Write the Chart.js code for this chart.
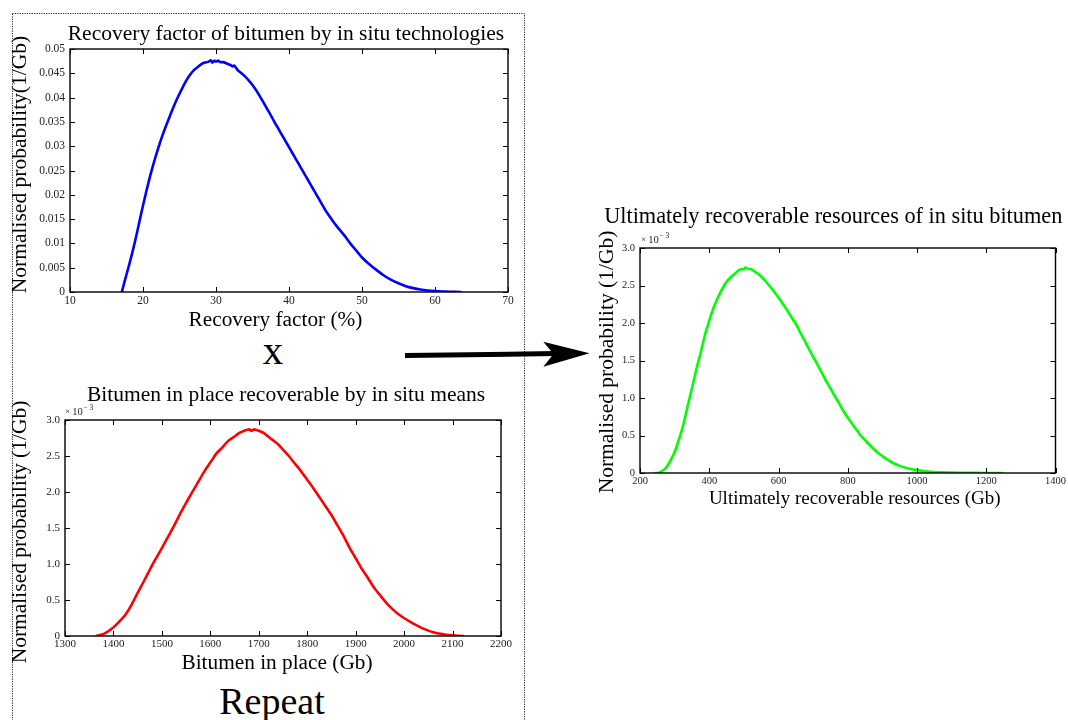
<!DOCTYPE html>
<html>
<head>
<meta charset="utf-8">
<title>In situ bitumen: recovery factor, bitumen in place and URR</title>
<script src="https://cdn.jsdelivr.net/npm/chart.js@4.4.1/dist/chart.umd.min.js"></script>
<style>
  html, body { margin: 0; padding: 0; background: #fff; width: 1068px; height: 720px; overflow: hidden; }
  #deco { position: absolute; left: 0; top: 0; }
  canvas { position: absolute; }
</style>
</head>
<body>
<svg id="deco" width="1068" height="720" xmlns="http://www.w3.org/2000/svg">
  <!-- dotted box around the two input distributions -->
  <rect x="12.5" y="13.5" width="512" height="720" fill="none" stroke="#222" stroke-width="1" stroke-dasharray="1.2,1.2"/>
  <!-- arrow pointing to the combined result -->
  <line x1="405" y1="355.6" x2="556" y2="353.6" stroke="#000" stroke-width="5"/>
  <path d="M589.5,353.3 L543.3,341.7 L553.5,354 L543.3,366.7 Z" fill="#000"/>
  <text x="273" y="364" font-family="Liberation Serif, serif" font-size="41" text-anchor="middle" fill="#000">x</text>
  <text x="272" y="714" font-family="Liberation Serif, serif" font-size="38" text-anchor="middle" fill="#000">Repeat</text>
</svg>

<canvas id="c1" width="530" height="340" style="left:0;top:0"></canvas>
<canvas id="c2" width="530" height="320" style="left:0;top:360px"></canvas>
<canvas id="c3" width="478" height="330" style="left:590px;top:190px"></canvas>

<script>
// ---- Recovery factor of bitumen by in situ technologies ----
const recoveryFactorPct = [17.1, 17.5, 18, 18.5, 19, 19.5, 20, 20.5, 21, 21.5, 22, 22.5, 23, 23.5, 24, 24.5,
  25, 25.5, 26, 26.5, 27, 27.5, 28, 28.5, 29, 29.3, 29.5, 29.8, 30, 30.3, 30.6, 31, 31.5, 32, 32.3, 32.5,
  33, 33.5, 34, 34.5, 35, 35.5, 36, 36.5, 37, 37.5, 38, 38.5, 39, 39.5, 40, 40.5, 41, 41.5, 42, 42.5,
  43, 43.5, 44, 44.5, 45, 45.5, 46, 46.5, 47, 47.5, 48, 48.5, 49, 49.5, 50, 51, 52, 53, 54, 55, 56, 57,
  58, 59, 60, 61, 62, 63.5];
const recoveryProb = [0, 0.0023, 0.0050, 0.0079, 0.0110, 0.0144, 0.0178, 0.0210, 0.0240, 0.0267, 0.0292, 0.0315,
  0.0336, 0.0355, 0.0374, 0.0392, 0.0408, 0.0423, 0.0437, 0.0448, 0.0457, 0.0463, 0.0469, 0.0472, 0.0474,
  0.0477, 0.0472, 0.0476, 0.0474, 0.0476, 0.0473, 0.0473, 0.0470, 0.0467, 0.0464, 0.0466, 0.0456, 0.0450,
  0.0443, 0.0435, 0.0426, 0.0415, 0.0403, 0.0390, 0.0377, 0.0364, 0.0350, 0.0337, 0.0324, 0.0311, 0.0298,
  0.0285, 0.0272, 0.0259, 0.0246, 0.0233, 0.0220, 0.0207, 0.0194, 0.0181, 0.0168, 0.0157, 0.0146, 0.0136,
  0.0127, 0.0118, 0.0108, 0.0098, 0.0089, 0.0080, 0.0071, 0.0057, 0.0045, 0.0034, 0.0025, 0.0018, 0.0012,
  0.0008, 0.0005, 0.0003, 0.00018, 0.0001, 0.00005, 0];
const recoveryXTicks = [10, 20, 30, 40, 50, 60, 70];
const recoveryYTicks = [0, 0.005, 0.01, 0.015, 0.02, 0.025, 0.03, 0.035, 0.04, 0.045, 0.05];

// ---- Bitumen in place recoverable by in situ means (probability in units of 1e-3 per Gb) ----
const bitumenInPlaceGb = [1365, 1380, 1390, 1400, 1412, 1425, 1437, 1450, 1462, 1475, 1487, 1500, 1512, 1525,
  1537, 1550, 1562, 1575, 1587, 1600, 1612, 1625, 1637, 1650, 1660, 1670, 1680, 1685, 1690, 1700, 1710, 1725,
  1737, 1750, 1762, 1775, 1787, 1800, 1812, 1825, 1837, 1850, 1862, 1875, 1887, 1900, 1912, 1925, 1937, 1950,
  1962, 1975, 1987, 2000, 2012, 2025, 2037, 2050, 2062, 2075, 2087, 2100, 2121];
const bitumenProbE3 = [0, 0.03, 0.07, 0.12, 0.2, 0.3, 0.43, 0.6, 0.75, 0.92, 1.07, 1.22, 1.37, 1.53, 1.69, 1.85,
  1.99, 2.14, 2.28, 2.41, 2.53, 2.62, 2.71, 2.77, 2.82, 2.85, 2.87, 2.85, 2.87, 2.85, 2.82, 2.74, 2.68, 2.59,
  2.50, 2.39, 2.29, 2.17, 2.06, 1.93, 1.81, 1.68, 1.54, 1.39, 1.23, 1.08, 0.94, 0.81, 0.68, 0.57, 0.47, 0.38,
  0.31, 0.25, 0.2, 0.15, 0.11, 0.075, 0.05, 0.03, 0.017, 0.009, 0];
const bitumenXTicks = [1300, 1400, 1500, 1600, 1700, 1800, 1900, 2000, 2100, 2200];
const probYTicksE3 = [0, 0.5, 1.0, 1.5, 2.0, 2.5, 3.0];

// ---- Ultimately recoverable resources of in situ bitumen (probability in units of 1e-3 per Gb) ----
const urrGb = [245, 255, 265, 275, 285, 300, 312, 325, 337, 350, 362, 375, 387, 400, 412, 425, 437, 450, 462,
  475, 487, 500, 505, 512, 520, 530, 540, 550, 562, 575, 587, 600, 612, 625, 637, 650, 662, 675, 687, 700,
  712, 725, 737, 750, 762, 775, 787, 800, 812, 825, 837, 850, 862, 875, 887, 900, 912, 925, 937, 950, 975,
  1000, 1025, 1050, 1075, 1100, 1150, 1200, 1245];
const urrProbE3 = [0, 0.005, 0.03, 0.07, 0.14, 0.28, 0.44, 0.64, 0.88, 1.13, 1.37, 1.6, 1.83, 2.03, 2.2, 2.34,
  2.45, 2.55, 2.61, 2.66, 2.71, 2.72, 2.74, 2.72, 2.72, 2.69, 2.66, 2.62, 2.56, 2.49, 2.42, 2.34, 2.26, 2.17,
  2.08, 1.99, 1.88, 1.77, 1.66, 1.55, 1.45, 1.34, 1.23, 1.13, 1.03, 0.93, 0.83, 0.74, 0.66, 0.58, 0.5, 0.44,
  0.38, 0.32, 0.27, 0.225, 0.185, 0.15, 0.12, 0.095, 0.06, 0.038, 0.023, 0.013, 0.008, 0.005, 0.002, 0.0005, 0];
const urrXTicks = [200, 400, 600, 800, 1000, 1200, 1400];

const SERIF = '"Liberation Serif", "Times New Roman", serif';

// Draws the boxed frame with inward ticks on all four sides, plus the titles and axis labels.
const figureText = {
  id: 'figureText',
  afterDatasetsDraw(chart, _args, o) {
    const { ctx, chartArea: a } = chart;
    const xs = chart.scales.x, ys = chart.scales.y;
    ctx.save();
    ctx.strokeStyle = '#000';
    ctx.lineWidth = 1;
    ctx.beginPath();
    const tl = 5;
    xs.ticks.forEach(t => {
      const p = Math.round(xs.getPixelForValue(t.value)) + 0.5;
      ctx.moveTo(p, a.bottom); ctx.lineTo(p, a.bottom - tl);
      ctx.moveTo(p, a.top); ctx.lineTo(p, a.top + tl);
    });
    ys.ticks.forEach(t => {
      const p = Math.round(ys.getPixelForValue(t.value)) + 0.5;
      ctx.moveTo(a.left, p); ctx.lineTo(a.left + tl, p);
      ctx.moveTo(a.right, p); ctx.lineTo(a.right - tl, p);
    });
    ctx.stroke();
    ctx.lineWidth = 1.4;
    ctx.strokeRect(a.left, a.top, a.right - a.left, a.bottom - a.top);

    const cx = (a.left + a.right) / 2, cy = (a.top + a.bottom) / 2;
    ctx.fillStyle = '#000';
    ctx.textAlign = 'center';
    ctx.textBaseline = 'middle';
    ctx.font = `${o.title.size}px ${SERIF}`;
    ctx.fillText(o.title.text, cx + o.title.dx, a.top + o.title.dy);
    ctx.font = `${o.xLabel.size}px ${SERIF}`;
    ctx.fillText(o.xLabel.text, cx + o.xLabel.dx, a.bottom + o.xLabel.dy);
    ctx.save();
    ctx.translate(a.left + o.yLabel.dx, cy + o.yLabel.dy);
    ctx.rotate(-Math.PI / 2);
    ctx.font = `${o.yLabel.size}px ${SERIF}`;
    ctx.fillText(o.yLabel.text, 0, 0);
    ctx.restore();

    if (o.exponent) {
      const bx = a.left + o.exponent.dx, by = a.top + o.exponent.dy;
      ctx.textAlign = 'left';
      ctx.textBaseline = 'alphabetic';
      ctx.fillStyle = '#222';
      ctx.font = `9px ${SERIF}`;
      ctx.fillText('×', bx, by - 1);
      const w1 = ctx.measureText('× ').width;
      ctx.font = `10.5px ${SERIF}`;
      ctx.fillText('10', bx + w1, by);
      const w2 = ctx.measureText('10').width;
      ctx.font = `7.5px ${SERIF}`;
      ctx.fillText('− 3', bx + w1 + w2 + 0.5, by - 5);
    }
    ctx.restore();
  }
};

function buildChart(id, d) {
  return new Chart(document.getElementById(id), {
    type: 'line',
    data: {
      datasets: [{
        data: d.xs.map((v, i) => ({ x: v, y: d.ys[i] })),
        borderColor: d.color,
        borderWidth: 2.6,
        pointRadius: 0,
        tension: 0.2,
        fill: false,
        borderJoinStyle: 'round',
        borderCapStyle: 'round'
      }]
    },
    options: {
      responsive: false,
      animation: false,
      events: [],
      layout: { padding: { left: 0, top: d.box.top, right: d.box.right, bottom: 0 } },
      plugins: {
        legend: { display: false },
        tooltip: { enabled: false },
        title: { display: false },
        figureText: d.text
      },
      scales: {
        x: {
          type: 'linear',
          min: d.xTicks[0],
          max: d.xTicks[d.xTicks.length - 1],
          afterBuildTicks: s => { s.ticks = d.xTicks.map(v => ({ value: v })); },
          afterFit: s => { s.height = d.box.xAxis; },
          grid: { display: false, drawTicks: false },
          border: { display: false },
          ticks: {
            autoSkip: false, maxRotation: 0, minRotation: 0, padding: 2,
            color: '#222', font: { family: SERIF, size: d.tickSize },
            callback: v => String(v)
          }
        },
        y: {
          type: 'linear',
          min: d.yTicks[0],
          max: d.yTicks[d.yTicks.length - 1],
          afterBuildTicks: s => { s.ticks = d.yTicks.map(v => ({ value: v })); },
          afterFit: s => { s.width = d.box.yAxis; },
          grid: { display: false, drawTicks: false },
          border: { display: false },
          ticks: {
            autoSkip: false, padding: 5,
            color: '#222', font: { family: SERIF, size: d.tickSize },
            callback: d.yFmt
          }
        }
      }
    },
    plugins: [figureText]
  });
}

const fmtE3 = v => (v === 0 ? '0' : v.toFixed(1));

buildChart('c1', {
  xs: recoveryFactorPct, ys: recoveryProb, color: '#0000ff',
  xTicks: recoveryXTicks, yTicks: recoveryYTicks, tickSize: 11.5,
  yFmt: v => (v === 0 ? '0' : String(v)),
  box: { top: 49, right: 22, yAxis: 70, xAxis: 48 },
  text: {
    title: { text: 'Recovery factor of bitumen by in situ technologies', size: 21.5, dx: -3, dy: -15 },
    xLabel: { text: 'Recovery factor (%)', size: 21.3, dx: -13.5, dy: 28 },
    yLabel: { text: 'Normalised probability(1/Gb)', size: 21.5, dx: -50, dy: -6 }
  }
});

buildChart('c2', {
  xs: bitumenInPlaceGb, ys: bitumenProbE3, color: '#ff0000',
  xTicks: bitumenXTicks, yTicks: probYTicksE3, tickSize: 11,
  yFmt: fmtE3,
  box: { top: 60, right: 29, yAxis: 65, xAxis: 44 },
  text: {
    title: { text: 'Bitumen in place recoverable by in situ means', size: 21.5, dx: 3, dy: -25 },
    xLabel: { text: 'Bitumen in place (Gb)', size: 21.3, dx: -6, dy: 27 },
    yLabel: { text: 'Normalised probability (1/Gb)', size: 21.5, dx: -45, dy: 4 },
    exponent: { dx: 0, dy: -5 }
  }
});

buildChart('c3', {
  xs: urrGb, ys: urrProbE3, color: '#00ff00',
  xTicks: urrXTicks, yTicks: probYTicksE3, tickSize: 10.5,
  yFmt: fmtE3,
  box: { top: 58, right: 11, yAxis: 50, xAxis: 47 },
  text: {
    title: { text: 'Ultimately recoverable resources of in situ bitumen', size: 22.3, dx: -14.5, dy: -31 },
    xLabel: { text: 'Ultimately recoverable resources (Gb)', size: 19, dx: 7, dy: 26 },
    yLabel: { text: 'Normalised probability (1/Gb)', size: 21.5, dx: -33, dy: 1.5 },
    exponent: { dx: 1, dy: -5 }
  }
});
</script>
</body>
</html>
